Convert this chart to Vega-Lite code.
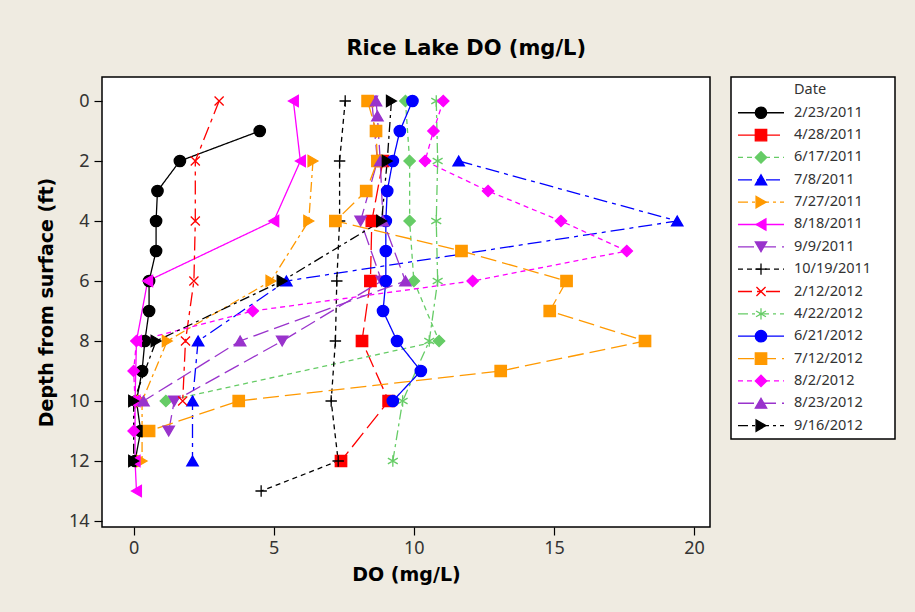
{
  "$schema": "https://vega.github.io/schema/vega-lite/v6.json",
  "background": "#EFEBE1",
  "padding": {"left": 36, "top": 38, "right": 30, "bottom": 40},
  "title": {"text": "Rice Lake DO (mg/L)", "font": "DejaVu Sans", "fontSize": 21, "fontWeight": "bold", "color": "#000000", "anchor": "middle", "offset": 17},
  "config": {
    "view": {"stroke": "#000000", "strokeWidth": 1.5, "fill": "#FFFFFF"},
    "axis": {"grid": false, "domain": false, "tickColor": "#000000", "tickSize": 8, "tickWidth": 1.2, "labelFont": "Noto Sans", "labelFontSize": 18, "labelColor": "#333333", "titleFont": "DejaVu Sans", "titleFontSize": 19, "titleFontWeight": "bold", "titleColor": "#000000"}
  },
  "datasets": {
    "profiles": [
      {"Date": "2/23/2011", "Depth": 1, "DO": 4.5},
      {"Date": "2/23/2011", "Depth": 2, "DO": 1.65},
      {"Date": "2/23/2011", "Depth": 3, "DO": 0.85},
      {"Date": "2/23/2011", "Depth": 4, "DO": 0.8},
      {"Date": "2/23/2011", "Depth": 5, "DO": 0.8},
      {"Date": "2/23/2011", "Depth": 6, "DO": 0.55},
      {"Date": "2/23/2011", "Depth": 7, "DO": 0.55},
      {"Date": "2/23/2011", "Depth": 8, "DO": 0.4},
      {"Date": "2/23/2011", "Depth": 9, "DO": 0.3},
      {"Date": "2/23/2011", "Depth": 10, "DO": 0.1},
      {"Date": "2/23/2011", "Depth": 11, "DO": 0.25},
      {"Date": "2/23/2011", "Depth": 12, "DO": 0.05},
      {"Date": "4/28/2011", "Depth": 2, "DO": 8.9},
      {"Date": "4/28/2011", "Depth": 4, "DO": 8.5},
      {"Date": "4/28/2011", "Depth": 6, "DO": 8.45},
      {"Date": "4/28/2011", "Depth": 8, "DO": 8.15},
      {"Date": "4/28/2011", "Depth": 10, "DO": 9.1},
      {"Date": "4/28/2011", "Depth": 12, "DO": 7.4},
      {"Date": "6/17/2011", "Depth": 0, "DO": 9.7},
      {"Date": "6/17/2011", "Depth": 2, "DO": 9.85},
      {"Date": "6/17/2011", "Depth": 4, "DO": 9.85},
      {"Date": "6/17/2011", "Depth": 6, "DO": 10.0},
      {"Date": "6/17/2011", "Depth": 8, "DO": 10.9},
      {"Date": "6/17/2011", "Depth": 10, "DO": 1.15},
      {"Date": "7/8/2011", "Depth": 2, "DO": 11.6},
      {"Date": "7/8/2011", "Depth": 4, "DO": 19.4},
      {"Date": "7/8/2011", "Depth": 6, "DO": 5.45},
      {"Date": "7/8/2011", "Depth": 8, "DO": 2.3},
      {"Date": "7/8/2011", "Depth": 10, "DO": 2.1},
      {"Date": "7/8/2011", "Depth": 12, "DO": 2.1},
      {"Date": "7/27/2011", "Depth": 2, "DO": 6.4},
      {"Date": "7/27/2011", "Depth": 4, "DO": 6.25},
      {"Date": "7/27/2011", "Depth": 6, "DO": 4.9},
      {"Date": "7/27/2011", "Depth": 8, "DO": 1.2},
      {"Date": "7/27/2011", "Depth": 10, "DO": 0.3},
      {"Date": "7/27/2011", "Depth": 12, "DO": 0.3},
      {"Date": "8/18/2011", "Depth": 0, "DO": 5.7},
      {"Date": "8/18/2011", "Depth": 2, "DO": 5.95},
      {"Date": "8/18/2011", "Depth": 4, "DO": 5.0},
      {"Date": "8/18/2011", "Depth": 6, "DO": 0.5},
      {"Date": "8/18/2011", "Depth": 8, "DO": 0.1},
      {"Date": "8/18/2011", "Depth": 10, "DO": 0.05},
      {"Date": "8/18/2011", "Depth": 12, "DO": 0.05},
      {"Date": "8/18/2011", "Depth": 13, "DO": 0.1},
      {"Date": "9/9/2011", "Depth": 0, "DO": 8.5},
      {"Date": "9/9/2011", "Depth": 2, "DO": 8.7},
      {"Date": "9/9/2011", "Depth": 4, "DO": 8.1},
      {"Date": "9/9/2011", "Depth": 6, "DO": 8.85},
      {"Date": "9/9/2011", "Depth": 8, "DO": 5.3},
      {"Date": "9/9/2011", "Depth": 10, "DO": 1.45},
      {"Date": "9/9/2011", "Depth": 11, "DO": 1.25},
      {"Date": "10/19/2011", "Depth": 0, "DO": 7.55},
      {"Date": "10/19/2011", "Depth": 2, "DO": 7.35},
      {"Date": "10/19/2011", "Depth": 4, "DO": 7.35},
      {"Date": "10/19/2011", "Depth": 6, "DO": 7.25},
      {"Date": "10/19/2011", "Depth": 8, "DO": 7.2},
      {"Date": "10/19/2011", "Depth": 10, "DO": 7.05},
      {"Date": "10/19/2011", "Depth": 12, "DO": 7.3},
      {"Date": "10/19/2011", "Depth": 13, "DO": 4.55},
      {"Date": "2/12/2012", "Depth": 0, "DO": 3.05},
      {"Date": "2/12/2012", "Depth": 2, "DO": 2.2},
      {"Date": "2/12/2012", "Depth": 4, "DO": 2.2},
      {"Date": "2/12/2012", "Depth": 6, "DO": 2.15},
      {"Date": "2/12/2012", "Depth": 8, "DO": 1.85},
      {"Date": "2/12/2012", "Depth": 10, "DO": 1.75},
      {"Date": "4/22/2012", "Depth": 0, "DO": 10.8},
      {"Date": "4/22/2012", "Depth": 2, "DO": 10.85},
      {"Date": "4/22/2012", "Depth": 4, "DO": 10.8},
      {"Date": "4/22/2012", "Depth": 6, "DO": 10.85},
      {"Date": "4/22/2012", "Depth": 8, "DO": 10.55},
      {"Date": "4/22/2012", "Depth": 10, "DO": 9.6},
      {"Date": "4/22/2012", "Depth": 12, "DO": 9.25},
      {"Date": "6/21/2012", "Depth": 0, "DO": 9.95},
      {"Date": "6/21/2012", "Depth": 1, "DO": 9.5},
      {"Date": "6/21/2012", "Depth": 2, "DO": 9.25},
      {"Date": "6/21/2012", "Depth": 3, "DO": 9.05},
      {"Date": "6/21/2012", "Depth": 4, "DO": 9.0},
      {"Date": "6/21/2012", "Depth": 5, "DO": 9.0},
      {"Date": "6/21/2012", "Depth": 6, "DO": 9.0},
      {"Date": "6/21/2012", "Depth": 7, "DO": 8.9},
      {"Date": "6/21/2012", "Depth": 8, "DO": 9.4},
      {"Date": "6/21/2012", "Depth": 9, "DO": 10.25},
      {"Date": "6/21/2012", "Depth": 10, "DO": 9.25},
      {"Date": "7/12/2012", "Depth": 0, "DO": 8.35},
      {"Date": "7/12/2012", "Depth": 1, "DO": 8.65},
      {"Date": "7/12/2012", "Depth": 2, "DO": 8.7},
      {"Date": "7/12/2012", "Depth": 3, "DO": 8.3},
      {"Date": "7/12/2012", "Depth": 4, "DO": 7.2},
      {"Date": "7/12/2012", "Depth": 5, "DO": 11.7},
      {"Date": "7/12/2012", "Depth": 6, "DO": 15.45},
      {"Date": "7/12/2012", "Depth": 7, "DO": 14.85},
      {"Date": "7/12/2012", "Depth": 8, "DO": 18.25},
      {"Date": "7/12/2012", "Depth": 9, "DO": 13.1},
      {"Date": "7/12/2012", "Depth": 10, "DO": 3.75},
      {"Date": "7/12/2012", "Depth": 11, "DO": 0.55},
      {"Date": "8/2/2012", "Depth": 0, "DO": 11.05},
      {"Date": "8/2/2012", "Depth": 1, "DO": 10.7},
      {"Date": "8/2/2012", "Depth": 2, "DO": 10.4},
      {"Date": "8/2/2012", "Depth": 3, "DO": 12.65},
      {"Date": "8/2/2012", "Depth": 4, "DO": 15.25},
      {"Date": "8/2/2012", "Depth": 5, "DO": 17.6},
      {"Date": "8/2/2012", "Depth": 6, "DO": 12.1},
      {"Date": "8/2/2012", "Depth": 7, "DO": 4.25},
      {"Date": "8/2/2012", "Depth": 8, "DO": 0.1},
      {"Date": "8/2/2012", "Depth": 9, "DO": 0.0},
      {"Date": "8/2/2012", "Depth": 10, "DO": 0.05},
      {"Date": "8/2/2012", "Depth": 11, "DO": 0.0},
      {"Date": "8/23/2012", "Depth": 0, "DO": 8.65},
      {"Date": "8/23/2012", "Depth": 0.5, "DO": 8.7},
      {"Date": "8/23/2012", "Depth": 2, "DO": 8.8},
      {"Date": "8/23/2012", "Depth": 4, "DO": 8.9},
      {"Date": "8/23/2012", "Depth": 6, "DO": 9.7},
      {"Date": "8/23/2012", "Depth": 8, "DO": 3.8},
      {"Date": "8/23/2012", "Depth": 10, "DO": 0.35},
      {"Date": "9/16/2012", "Depth": 0, "DO": 9.2},
      {"Date": "9/16/2012", "Depth": 2, "DO": 9.05},
      {"Date": "9/16/2012", "Depth": 4, "DO": 8.85},
      {"Date": "9/16/2012", "Depth": 6, "DO": 5.3},
      {"Date": "9/16/2012", "Depth": 8, "DO": 0.8},
      {"Date": "9/16/2012", "Depth": 10, "DO": 0.0},
      {"Date": "9/16/2012", "Depth": 12, "DO": 0.0}
    ],
    "dates": [
      {"Date": "2/23/2011"}, {"Date": "4/28/2011"}, {"Date": "6/17/2011"}, {"Date": "7/8/2011"}, {"Date": "7/27/2011"},
      {"Date": "8/18/2011"}, {"Date": "9/9/2011"}, {"Date": "10/19/2011"}, {"Date": "2/12/2012"}, {"Date": "4/22/2012"},
      {"Date": "6/21/2012"}, {"Date": "7/12/2012"}, {"Date": "8/2/2012"}, {"Date": "8/23/2012"}, {"Date": "9/16/2012"}
    ],
    "header": [{"Date": "Date"}]
  },
  "resolve": {"scale": {"x": "independent", "y": "independent"}},
  "spacing": 19,
  "hconcat": [
    {
      "width": 608,
      "height": 450,
      "data": {"name": "profiles"},
      "encoding": {
        "x": {"field": "DO", "type": "quantitative", "title": "DO (mg/L)", "scale": {"domain": [-1.13, 20.57], "nice": false, "zero": false}, "axis": {"values": [0, 5, 10, 15, 20], "labelPadding": 4, "titlePadding": 8}},
        "y": {"field": "Depth", "type": "quantitative", "title": "Depth from surface (ft)", "scale": {"domain": [-0.8, 14.2], "nice": false, "zero": false, "reverse": true}, "axis": {"values": [0, 2, 4, 6, 8, 10, 12, 14], "labelPadding": 5, "titlePadding": 12}}
      },
      "layer": [
        {
          "mark": {"type": "line", "strokeWidth": 1.3, "clip": true},
          "encoding": {
            "detail": {"field": "Date"},
            "order": {"field": "Depth", "type": "quantitative"},
            "color": {"field": "Date", "type": "nominal", "legend": null,
              "scale": {"domain": ["2/23/2011","4/28/2011","6/17/2011","7/8/2011","7/27/2011","8/18/2011","9/9/2011","10/19/2011","2/12/2012","4/22/2012","6/21/2012","7/12/2012","8/2/2012","8/23/2012","9/16/2012"],
                "range": ["#000000","#FF0000","#66CC66","#0000FF","#FF9900","#FF00FF","#9933CC","#000000","#FF0000","#66CC66","#0000FF","#FF9900","#FF00FF","#9933CC","#000000"]}},
            "strokeDash": {"field": "Date", "type": "nominal", "legend": null,
              "scale": {"domain": ["2/23/2011","4/28/2011","6/17/2011","7/8/2011","7/27/2011","8/18/2011","9/9/2011","10/19/2011","2/12/2012","4/22/2012","6/21/2012","7/12/2012","8/2/2012","8/23/2012","9/16/2012"],
                "range": [[1,0],[18,6],[5,4],[14,5,4,5],[10,4,3,4],[1,0],[16,6],[5,4],[14,5,4,5],[10,4,3,4],[1,0],[16,6],[5,4],[16,6],[10,4,3,4]]}}
          }
        },
        {
          "mark": {"type": "point", "size": 130, "strokeWidth": 1.3, "opacity": 1, "clip": true},
          "encoding": {
            "shape": {"field": "Date", "type": "nominal", "legend": null,
              "scale": {"domain": ["2/23/2011","4/28/2011","6/17/2011","7/8/2011","7/27/2011","8/18/2011","9/9/2011","10/19/2011","2/12/2012","4/22/2012","6/21/2012","7/12/2012","8/2/2012","8/23/2012","9/16/2012"],
                "range": ["circle","square","diamond","triangle-up","triangle-right","triangle-left","triangle-down","M-1,0L1,0M0,-1L0,1","M-0.8,-0.8L0.8,0.8M-0.8,0.8L0.8,-0.8","M0,-1L0,1M-0.87,-0.5L0.87,0.5M-0.87,0.5L0.87,-0.5","circle","square","diamond","triangle-up","triangle-right"]}},
            "fill": {"field": "Date", "type": "nominal", "legend": null,
              "scale": {"domain": ["2/23/2011","4/28/2011","6/17/2011","7/8/2011","7/27/2011","8/18/2011","9/9/2011","10/19/2011","2/12/2012","4/22/2012","6/21/2012","7/12/2012","8/2/2012","8/23/2012","9/16/2012"],
                "range": ["#000000","#FF0000","#66CC66","#0000FF","#FF9900","#FF00FF","#9933CC","#000000","#FF0000","#66CC66","#0000FF","#FF9900","#FF00FF","#9933CC","#000000"]}},
            "stroke": {"field": "Date", "type": "nominal", "legend": null,
              "scale": {"domain": ["2/23/2011","4/28/2011","6/17/2011","7/8/2011","7/27/2011","8/18/2011","9/9/2011","10/19/2011","2/12/2012","4/22/2012","6/21/2012","7/12/2012","8/2/2012","8/23/2012","9/16/2012"],
                "range": ["#000000","#FF0000","#66CC66","#0000FF","#FF9900","#FF00FF","#9933CC","#000000","#FF0000","#66CC66","#0000FF","#FF9900","#FF00FF","#9933CC","#000000"]}}
          }
        }
      ]
    },
    {
      "width": 164,
      "height": 362,
      "layer": [
        {
          "data": {"name": "header"},
          "mark": {"type": "text", "align": "left", "baseline": "middle", "font": "Noto Sans", "fontSize": 14.5, "color": "#333333"},
          "encoding": {
            "x": {"datum": 63, "type": "quantitative", "scale": {"domain": [0, 164], "nice": false, "zero": false}, "axis": null},
            "y": {"field": "Date", "type": "nominal", "axis": null, "scale": {"type": "point", "padding": 0.6, "domain": ["Date","2/23/2011","4/28/2011","6/17/2011","7/8/2011","7/27/2011","8/18/2011","9/9/2011","10/19/2011","2/12/2012","4/22/2012","6/21/2012","7/12/2012","8/2/2012","8/23/2012","9/16/2012"]}},
            "text": {"field": "Date"}
          }
        },
        {
          "data": {"name": "dates"},
          "mark": {"type": "rule", "strokeWidth": 1.3},
          "encoding": {
            "x": {"datum": 7, "type": "quantitative"},
            "x2": {"datum": 53},
            "y": {"field": "Date", "type": "nominal"},
            "color": {"field": "Date", "type": "nominal", "legend": null,
              "scale": {"domain": ["2/23/2011","4/28/2011","6/17/2011","7/8/2011","7/27/2011","8/18/2011","9/9/2011","10/19/2011","2/12/2012","4/22/2012","6/21/2012","7/12/2012","8/2/2012","8/23/2012","9/16/2012"],
                "range": ["#000000","#FF0000","#66CC66","#0000FF","#FF9900","#FF00FF","#9933CC","#000000","#FF0000","#66CC66","#0000FF","#FF9900","#FF00FF","#9933CC","#000000"]}},
            "strokeDash": {"field": "Date", "type": "nominal", "legend": null,
              "scale": {"domain": ["2/23/2011","4/28/2011","6/17/2011","7/8/2011","7/27/2011","8/18/2011","9/9/2011","10/19/2011","2/12/2012","4/22/2012","6/21/2012","7/12/2012","8/2/2012","8/23/2012","9/16/2012"],
                "range": [[1,0],[1,0],[5,4],[24,4,4,4],[24,4,3,4],[1,0],[1,0],[5,4],[24,4,4,4],[24,4,3,4],[1,0],[1,0],[5,4],[24,4,4,4],[24,4,3,4]]}}
          }
        },
        {
          "data": {"name": "dates"},
          "mark": {"type": "point", "size": 130, "strokeWidth": 1.3, "opacity": 1},
          "encoding": {
            "x": {"datum": 30, "type": "quantitative"},
            "y": {"field": "Date", "type": "nominal"},
            "shape": {"field": "Date", "type": "nominal", "legend": null,
              "scale": {"domain": ["2/23/2011","4/28/2011","6/17/2011","7/8/2011","7/27/2011","8/18/2011","9/9/2011","10/19/2011","2/12/2012","4/22/2012","6/21/2012","7/12/2012","8/2/2012","8/23/2012","9/16/2012"],
                "range": ["circle","square","diamond","triangle-up","triangle-right","triangle-left","triangle-down","M-1,0L1,0M0,-1L0,1","M-0.8,-0.8L0.8,0.8M-0.8,0.8L0.8,-0.8","M0,-1L0,1M-0.87,-0.5L0.87,0.5M-0.87,0.5L0.87,-0.5","circle","square","diamond","triangle-up","triangle-right"]}},
            "fill": {"field": "Date", "type": "nominal", "legend": null,
              "scale": {"domain": ["2/23/2011","4/28/2011","6/17/2011","7/8/2011","7/27/2011","8/18/2011","9/9/2011","10/19/2011","2/12/2012","4/22/2012","6/21/2012","7/12/2012","8/2/2012","8/23/2012","9/16/2012"],
                "range": ["#000000","#FF0000","#66CC66","#0000FF","#FF9900","#FF00FF","#9933CC","#000000","#FF0000","#66CC66","#0000FF","#FF9900","#FF00FF","#9933CC","#000000"]}},
            "stroke": {"field": "Date", "type": "nominal", "legend": null,
              "scale": {"domain": ["2/23/2011","4/28/2011","6/17/2011","7/8/2011","7/27/2011","8/18/2011","9/9/2011","10/19/2011","2/12/2012","4/22/2012","6/21/2012","7/12/2012","8/2/2012","8/23/2012","9/16/2012"],
                "range": ["#000000","#FF0000","#66CC66","#0000FF","#FF9900","#FF00FF","#9933CC","#000000","#FF0000","#66CC66","#0000FF","#FF9900","#FF00FF","#9933CC","#000000"]}}
          }
        },
        {
          "data": {"name": "dates"},
          "mark": {"type": "text", "align": "left", "baseline": "middle", "font": "Noto Sans", "fontSize": 14.5, "color": "#333333"},
          "encoding": {
            "x": {"datum": 63, "type": "quantitative"},
            "y": {"field": "Date", "type": "nominal"},
            "text": {"field": "Date"}
          }
        }
      ]
    }
  ]
}
